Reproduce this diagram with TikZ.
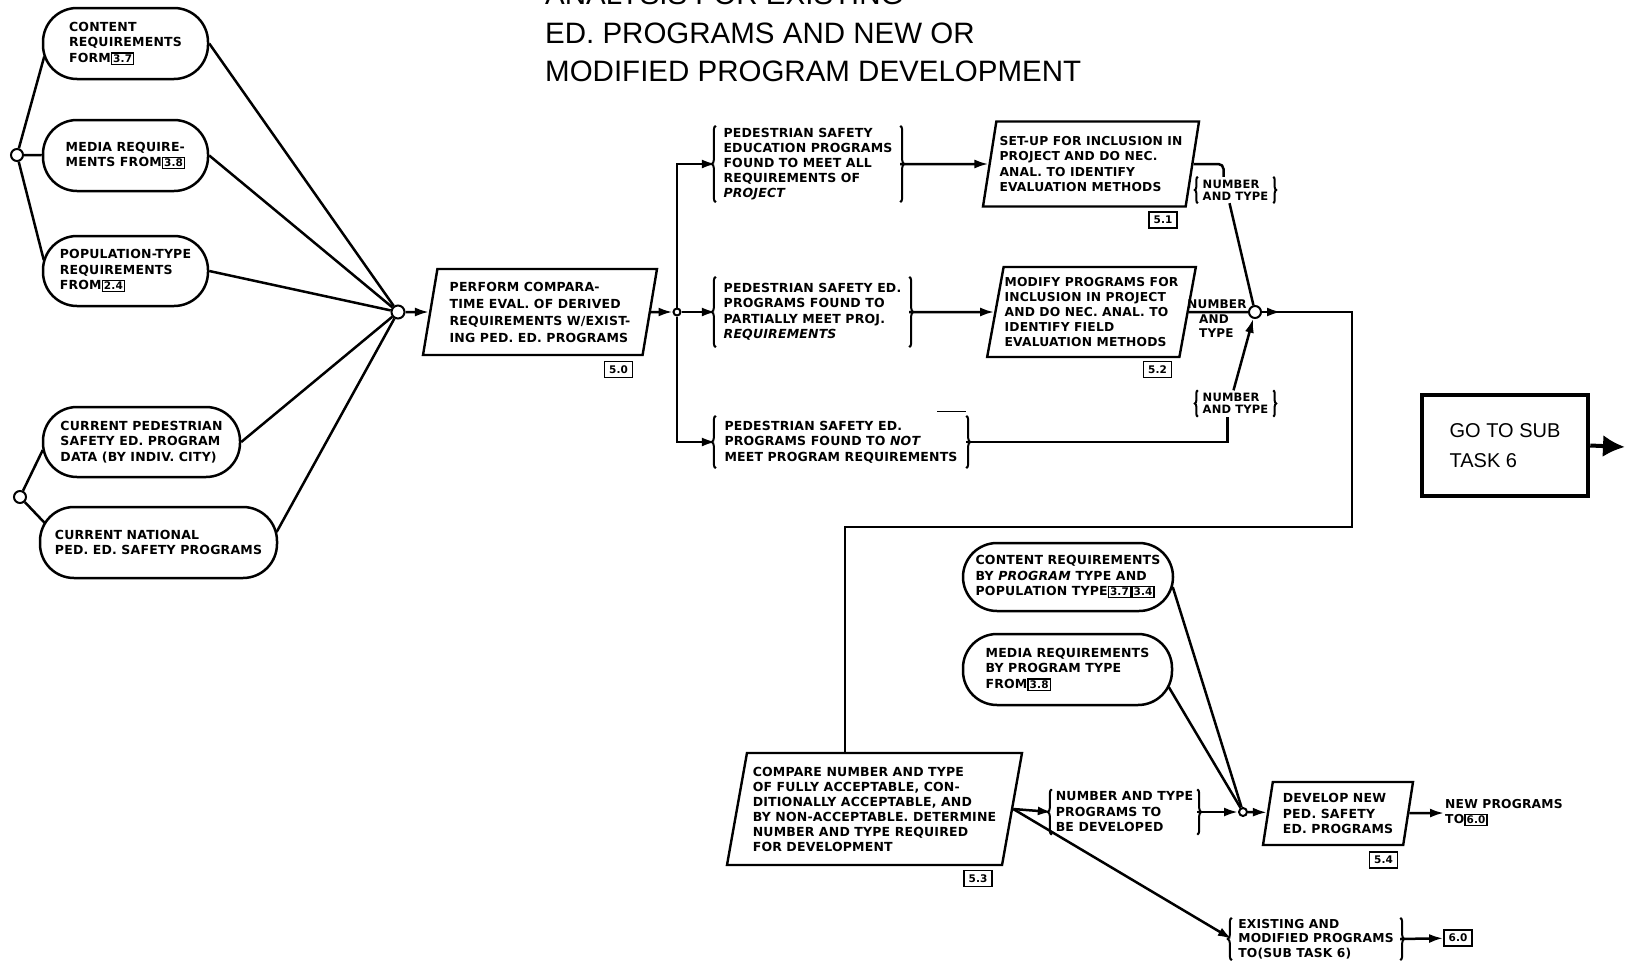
\documentclass[tikz,border=0pt]{standalone}
\usepackage{fontspec}
\setmainfont{DejaVu Sans}[LetterSpace=1.5]
\newfontfamily\titlefont{Liberation Sans}
\usetikzlibrary{shapes.geometric,arrows.meta,decorations.pathreplacing}

% small boxed reference number inside a text line
\newcommand\refbx[1]{{\setlength\fboxsep{1pt}\setlength\fboxrule{1.3pt}\fbox{\fontsize{10.5}{10.5}\selectfont #1}}}

\tikzset{
  txt/.style={font=\fontsize{12.5}{15.5}\selectfont\bfseries, align=left},
  stad/.style={txt, draw, line width=2.5pt, rounded corners=34pt, inner sep=0pt, fill=white},
  para/.style={txt, draw, line width=2.4pt, trapezium, trapezium left angle=77,
               trapezium right angle=103, trapezium stretches body, inner sep=1pt, fill=white},
  brk/.style={txt, inner sep=1pt},
  junc/.style={circle, draw, fill=white, line width=2pt, inner sep=0pt, minimum size=#1},
  refbox/.style={draw, line width=1.8pt, inner sep=0pt, minimum width=28pt, minimum height=16pt,
                 font=\fontsize{10.5}{10.5}\selectfont\bfseries},
  wire/.style={line width=2.5pt},
  arr/.style={wire, -{Latex[length=14pt,width=9pt]}},
  bracestyle/.style={decorate, line width=2pt},
  ttl/.style={anchor=base west, inner sep=0pt, font=\titlefont\fontsize{29.5}{30}\selectfont},
}

% curly braces on both sides of a node
\newcommand\bracepair[2][4pt]{%
  \draw[bracestyle, decoration={brace, amplitude=#1}] (#2.south west) -- (#2.north west);
  \draw[bracestyle, decoration={brace, amplitude=#1}] (#2.north east) -- (#2.south east);}

\begin{document}
\begin{tikzpicture}[x=1pt, y=-1pt]
\fill[white] (0,0) rectangle (1625,961);
\useasboundingbox (0,0) rectangle (1625,961);

% heading
\node[ttl] (t1) at (545,5) {ANALYSIS FOR EXISTING};
\node[ttl] (t2) at (545,43) {ED. PROGRAMS AND NEW OR};
\node[ttl] (t3) at (545,81) {MODIFIED PROGRAM DEVELOPMENT};

% input requirements
\node[stad, minimum width=165pt, minimum height=71pt] (cr1) at (125.5,43.5) {CONTENT\\REQUIREMENTS\\FORM\refbx{3.7}};
\node[stad, minimum width=165pt, minimum height=71pt] (mr1) at (125.5,155.5) {MEDIA REQUIRE-\\MENTS FROM\refbx{3.8}};
\node[stad, minimum width=165pt, minimum height=70pt] (pr1) at (125.5,271) {POPULATION-TYPE\\REQUIREMENTS\\FROM\refbx{2.4}};
\node[stad, minimum width=197pt, minimum height=70pt] (cp) at (141.5,442) {CURRENT PEDESTRIAN\\SAFETY ED. PROGRAM\\DATA (BY INDIV. CITY)};
\node[stad, minimum width=237pt, minimum height=71pt] (cn) at (158.5,542.5) {CURRENT NATIONAL\\PED. ED. SAFETY PROGRAMS};

\node[junc=12pt] (c1) at (17,155) {};
\node[junc=12pt] (c2) at (20,497) {};
\node[junc=13pt] (J1) at (398,312) {};

\draw[wire] (c1) -- ([xshift=2.5pt,yshift=-13pt]cr1.west);
\draw[wire] (c1) -- (mr1);
\draw[wire] (c1) -- ([xshift=2pt,yshift=11pt]pr1.west);
\draw[wire] (c2) -- ([xshift=1pt,yshift=-8pt]cp.west);
\draw[wire] (c2) -- ([xshift=6pt,yshift=19.5pt]cn.west);
\draw[wire] (cr1.east) -- (J1);
\draw[wire] (mr1.east) -- (J1);
\draw[wire] (pr1.east) -- (J1);
\draw[wire] (cp.east) -- (J1);
\draw[wire] ([xshift=-1.6pt,yshift=10.5pt]cn.east) -- (J1);

% comparison
\node[para, font=\fontsize{12.5}{17}\selectfont\bfseries, minimum width=234pt, minimum height=86pt] (pf) at (540,312)
  {PERFORM COMPARA-\\TIME EVAL. OF DERIVED\\REQUIREMENTS W/EXIST-\\ING PED. ED. PROGRAMS};
\node[refbox] (r50) at (618.5,369.5) {5.0};
\node[junc=7pt] (J2) at (677,312) {};
\draw[arr] (J1) -- (pf);
\draw[arr] (pf) -- (J2);

% outcome groups
\node[brk, font=\fontsize{12.5}{15}\selectfont\bfseries, minimum width=184pt, minimum height=76pt] (b1) at (808,164)
  {PEDESTRIAN SAFETY\\EDUCATION PROGRAMS\\FOUND TO MEET ALL\\REQUIREMENTS OF\\\textit{PROJECT}};
\node[brk, minimum width=193pt, minimum height=70pt] (b2) at (812.5,312)
  {PEDESTRIAN SAFETY ED.\\PROGRAMS FOUND TO\\PARTIALLY MEET PROJ.\\\textit{REQUIREMENTS}};
\node[brk, minimum width=250pt, minimum height=52pt] (b3) at (841,442)
  {PEDESTRIAN SAFETY ED.\\PROGRAMS FOUND TO \textit{NOT}\\MEET PROGRAM REQUIREMENTS};
\bracepair{b1}
\bracepair{b2}
\bracepair{b3}
\draw[line width=1.2pt] ([xshift=-29pt,yshift=4pt]b3.north east) -- ([yshift=4pt]b3.north east);

\draw[arr] (J2) |- (b1.west);
\draw[arr] (J2) -- (b2.west);
\draw[arr] (J2) |- (b3.west);

% set-up and modification
\node[para, font=\fontsize{12.3}{15.5}\selectfont\bfseries, minimum width=216pt, minimum height=85pt] (su) at (1091,164)
  {SET-UP FOR INCLUSION IN\\PROJECT AND DO NEC.\\ANAL. TO IDENTIFY\\EVALUATION METHODS};
\node[refbox] (r51) at (1163,220) {5.1};
\node[para, font=\fontsize{12.3}{15}\selectfont\bfseries, minimum width=207pt, minimum height=90pt] (md) at (1091.5,312)
  {MODIFY PROGRAMS FOR\\INCLUSION IN PROJECT\\AND DO NEC. ANAL. TO\\IDENTIFY FIELD\\EVALUATION METHODS};
\node[refbox] (r52) at (1157.5,369.5) {5.2};
\draw[arr] (b1.east) -- (su);
\draw[arr] (b2.east) -- (md);

% merge of counts
\node[junc=12pt] (J3) at (1255,312) {};
\node[brk, font=\fontsize{11.5}{12}\selectfont\bfseries, minimum width=75pt, minimum height=26pt] (nt1) at (1235.5,190) {NUMBER\\AND TYPE};
\node[brk, font=\fontsize{11.5}{12}\selectfont\bfseries, minimum width=75pt, minimum height=26pt] (nt2) at (1235.5,403.5) {NUMBER\\AND TYPE};
\bracepair[3pt]{nt1}
\bracepair[3pt]{nt2}
\node[txt, font=\fontsize{12}{14}\selectfont\bfseries, anchor=base, inner sep=0pt] (nm) at (1217,308) {NUMBER};
\node[txt, font=\fontsize{12}{14}\selectfont\bfseries, anchor=north west, inner sep=0pt] (at) at (1199,315) {AND\\TYPE};

\draw[wire, rounded corners=5pt] (su.east) -| ([xshift=-12pt]nt1.north);
\draw[wire] ([xshift=-6pt]nt1.south) -- (J3);
\draw[wire] (md) -- (J3);
\draw[wire] (b3.east) -| ([xshift=-8pt]nt2.south);
\draw[arr] ([xshift=-2pt]nt2.north) -- (J3);

% loop down to the comparison of counts
\node[para, font=\fontsize{12.5}{15}\selectfont\bfseries, minimum width=295pt, minimum height=112pt] (cmp) at (874.5,809)
  {COMPARE NUMBER AND TYPE\\OF FULLY ACCEPTABLE, CON-\\DITIONALLY ACCEPTABLE, AND\\BY NON-ACCEPTABLE. DETERMINE\\NUMBER AND TYPE REQUIRED\\FOR DEVELOPMENT};
\node[refbox] (r53) at (978,878.5) {5.3};
\coordinate (k1) at (1352,312);
\coordinate (k2) at (1352,527);
\coordinate (k3) at (845,527);
\draw[wire] (J3) -- (k1) -- (k2) -- (k3) -- (k3 |- cmp.north);
\draw[arr] (J3) -- ++(26,0);

% sub task 6
\node[draw, line width=4.5pt, minimum width=166pt, minimum height=101pt, align=left,
      font=\titlefont\fontsize{20}{30}\selectfont] (go) at (1505,445.5) {GO TO SUB\\TASK 6};
\coordinate (goend) at (1625,447);
\draw[line width=4pt, -{Latex[length=22pt,width=22pt]}] (go.east) -- (goend);

% new program development
\node[stad, minimum width=210pt, minimum height=68pt] (cr2) at (1068,577)
  {CONTENT REQUIREMENTS\\BY \textit{PROGRAM} TYPE AND\\POPULATION TYPE\refbx{3.7}\refbx{3.4}};
\node[stad, minimum width=209pt, minimum height=71pt] (mr2) at (1067.5,669.5)
  {MEDIA REQUIREMENTS\\BY PROGRAM TYPE\\FROM\refbx{3.8}};
\node[brk, minimum width=145pt, minimum height=45pt] (b4) at (1124.5,812)
  {NUMBER AND TYPE\\PROGRAMS TO\\BE DEVELOPED};
\bracepair{b4}
\node[junc=8pt] (J4) at (1243,812) {};
\node[para, minimum width=150pt, minimum height=63pt] (dv) at (1338,813.5)
  {DEVELOP NEW\\PED. SAFETY\\ED. PROGRAMS};
\node[refbox] (r54) at (1383.5,860) {5.4};
\node[txt, font=\fontsize{12.3}{15}\selectfont\bfseries, anchor=west, inner sep=1pt] (np) at (1444,813) {NEW PROGRAMS\\TO\refbx{6.0}};
\node[brk, font=\fontsize{12.3}{14.5}\selectfont\bfseries, minimum width=168pt, minimum height=42pt] (b5) at (1316,939)
  {EXISTING AND\\MODIFIED PROGRAMS\\TO(SUB TASK 6)};
\bracepair{b5}
\node[refbox] (r60) at (1458,938) {6.0};

\draw[arr] (cmp.east) -- (b4.west);
\draw[arr] (cmp.east) -- (b5.west);
\draw[arr] (b4.east) -- (J4);
\draw[wire] ([xshift=-1.5pt,yshift=-10pt]cr2.east) -- (J4);
\draw[wire] ([xshift=-4.5pt,yshift=-17.5pt]mr2.east) -- (J4);
\draw[arr] (J4) -- (dv);
\draw[arr] (dv) -- (np.west);
\draw[arr] (b5.east) -- (r60);
\end{tikzpicture}
\end{document}
